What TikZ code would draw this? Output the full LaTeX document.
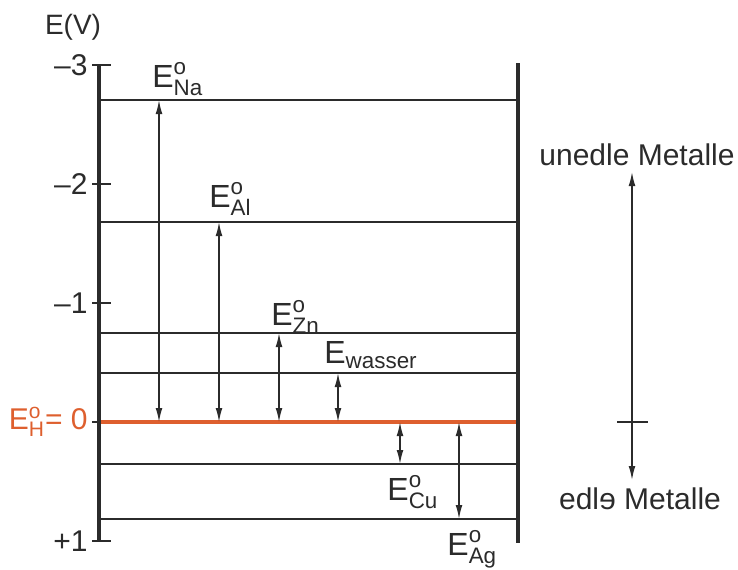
\documentclass[tikz,border=0pt]{standalone}
\usepackage{fontspec}
\setmainfont{Liberation Sans}
\usepackage{graphicx}
\usepackage{tikz}
\usetikzlibrary{arrows.meta}
\definecolor{potdark}{HTML}{2B2B2B}
\definecolor{potorange}{HTML}{DE5F2E}
\tikzset{
  axisline/.style={line width=2pt, draw=potdark},
  level/.style={line width=1.4pt, draw=potdark},
  zeroline/.style={line width=1.6pt, draw=potorange},
  tickmark/.style={line width=1pt, draw=potdark},
  dimarrow/.style={{Latex[length=7pt,width=3.4pt]}-{Latex[length=7pt,width=3.4pt]}, line width=0.7pt, draw=potdark},
  elbl/.style={font=\fontsize{16}{19}\selectfont, text=potdark, inner sep=0pt, anchor=base west},
  ticklbl/.style={font=\fontsize{15}{18}\selectfont, text=potdark, inner sep=0pt, anchor=east},
  sidelbl/.style={font=\fontsize{15}{18}\selectfont, text=potdark, inner sep=0pt},
}
\newcommand{\Epot}[1]{$\mathrm{E}^{\mathrm{o}}_{\mathrm{#1}}$}

\begin{document}
\begin{tikzpicture}[x=0.5pt, y=-0.5pt]
  \useasboundingbox (0,0) rectangle (738,569);

  \coordinate (ax-top) at (99,65);
  \coordinate (ax-bot) at (99,541);
  \coordinate (rt-top) at (518,63);
  \coordinate (rt-bot) at (518,543);

  \foreach \name/\y in {na/100, al/222, zn/333, wa/373, cu/464, ag/519} {
    \coordinate (\name-l) at (99,\y);
    \coordinate (\name-r) at (518,\y);
    \draw[level] (\name-l) -- (\name-r);
  }
  \coordinate (h-l) at (99,422);
  \coordinate (h-r) at (518,422);
  \draw[zeroline] (h-l) -- (h-r);

  \draw[axisline] (ax-top) -- (ax-bot);
  \draw[axisline] (rt-top) -- (rt-bot);

  \foreach \v/\lab in {-3/--3, -2/--2, -1/--1, 1/+1} {
    \draw[tickmark] (92,422+119*\v) -- (111,422+119*\v);
    \node[ticklbl] (t\v) at (88,422+119*\v) {\lab};
  }
  \draw[tickmark] (92,422) -- (99,422);
  \node[ticklbl, anchor=base east, text=potorange] (eh) at (88,429) {$\mathrm{E}^{\mathrm{o}}_{\mathrm{H}}$= 0};
  \node[sidelbl, font=\fontsize{14}{17}\selectfont] (ev) at (73,27) {E(V)};

  \coordinate (na0) at (159,422);
  \coordinate (al0) at (219,422);
  \coordinate (zn0) at (279,422);
  \coordinate (wa0) at (338,422);
  \coordinate (cu0) at (400,422);
  \coordinate (ag0) at (459,422);
  \draw[dimarrow] (na0) -- (na0 |- na-l);
  \draw[dimarrow] (al0) -- (al0 |- al-l);
  \draw[dimarrow] (zn0) -- (zn0 |- zn-l);
  \draw[dimarrow] (wa0) -- (wa0 |- wa-l);
  \draw[dimarrow] (cu0) -- (cu0 |- cu-l);
  \draw[dimarrow] (ag0) -- (ag0 |- ag-l);

  \node[elbl] (ena) at (152,87) {\Epot{Na}};
  \node[elbl] (eal) at (209,207) {\Epot{Al}};
  \node[elbl] (ezn) at (271,325) {\Epot{Zn}};
  \node[elbl] (ewa) at (324,363) {$\mathrm{E}_{\mathrm{wasser}}$};
  \node[elbl] (ecu) at (387,500) {\Epot{Cu}};
  \node[elbl] (eag) at (447,555) {\Epot{Ag}};

  \coordinate (base) at (632,172);
  \coordinate (noble) at (632,480);
  \draw[dimarrow] (noble) -- (base);
  \draw[tickmark] (617,422) -- (648,422);
  \node[sidelbl] (unedel) at (637,155) {unedle Metalle};
  \node[sidelbl] (edel) at (640,499) {edl\reflectbox{e} Metalle};
\end{tikzpicture}
\end{document}
